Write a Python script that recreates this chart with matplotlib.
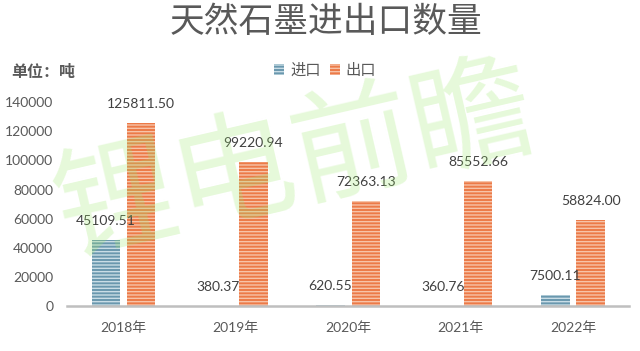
import matplotlib.pyplot as plt
import numpy as np

plt.rcParams["font.family"] = ["Lato", "Noto Sans CJK SC", "DejaVu Sans"]
plt.rcParams["hatch.linewidth"] = 1.0

years = ["2018年", "2019年", "2020年", "2021年", "2022年"]
imports = [45109.51, 380.37, 620.55, 360.76, 7500.11]
exports = [125811.50, 99220.94, 72363.13, 85552.66, 58824.00]
yticks = [0, 20000, 40000, 60000, 80000, 100000, 120000, 140000]

TEXT = "#595959"
IMP_COLOR = "#6A98AE"
EXP_COLOR = "#EC7A48"

fig = plt.figure(figsize=(6.4, 3.51), dpi=100)
ax = fig.add_axes([0.105, 0.128, 0.878, 0.581])

x = np.arange(len(years))
w = 0.253
off = 0.157

ax.bar(x - off, imports, w, facecolor=IMP_COLOR, edgecolor="#C9DDE6",
       linewidth=0, hatch="-----", label="进口")
ax.bar(x + off, exports, w, facecolor=EXP_COLOR, edgecolor="#F7C3A8",
       linewidth=0, hatch="-----", label="出口")

# value labels sit about 19 px above each bar
for xs, vals in [(x - off, imports), (x + off, exports)]:
    for xi, v in zip(xs, vals):
        ax.annotate(f"{v:.2f}", (xi, v), xytext=(0, 19),
                    textcoords="offset pixels", ha="center", va="center",
                    fontsize=10, color="#404040", annotation_clip=False)

ax.set_xlim(-0.5, len(years) - 0.5)
ax.set_ylim(0, 140000)
ax.set_xticks(x)
ax.set_xticklabels(years, fontsize=10, color=TEXT)
ax.set_yticks(yticks)
ax.set_yticklabels([str(v) for v in yticks], fontsize=10, color=TEXT)
ax.tick_params(length=0)
ax.tick_params(axis="x", pad=11)
ax.tick_params(axis="y", pad=10)

for side in ["top", "right", "left"]:
    ax.spines[side].set_visible(False)
ax.spines["bottom"].set_color("#BFBFBF")
ax.spines["bottom"].set_linewidth(1.8)

fig.text(0.51, 0.935, "天然石墨进出口数量", ha="center", va="center",
         fontsize=25, color=TEXT, family=["Noto Sans CJK SC"])
fig.text(0.018, 0.795, "单位：吨", ha="left", va="center", fontsize=11.5,
         color=TEXT, fontweight="bold", family=["Noto Sans CJK SC"])

fig.legend(loc="center", bbox_to_anchor=(0.508, 0.80), ncol=2, frameon=False,
           handlelength=0.65, handleheight=0.7,
           handletextpad=0.4, columnspacing=0.6, labelcolor=TEXT,
           prop={"family": ["Noto Sans CJK SC"], "size": 11})

# watermark laid over the chart
fig.text(0.462, 0.535, "锂电前瞻", ha="center", va="center", fontsize=88,
         rotation=13, color="#9BE86A", alpha=0.25, zorder=10,
         family=["Noto Sans CJK SC"])

fig.savefig("out.png", dpi=100)
